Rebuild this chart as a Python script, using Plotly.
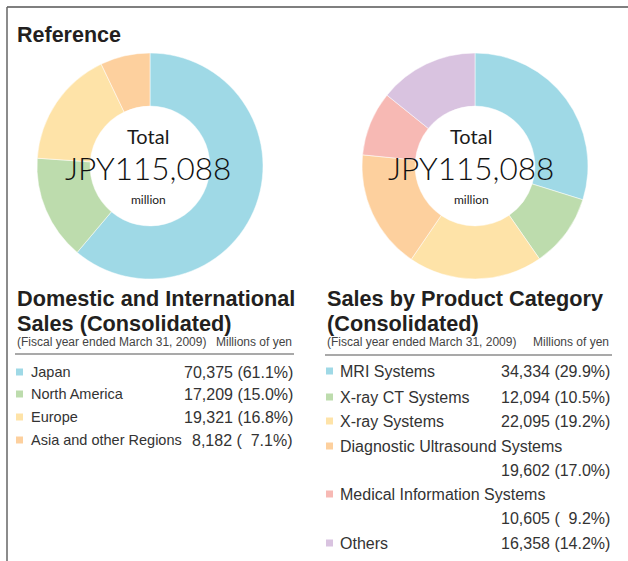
import plotly.graph_objects as go

W, H = 628, 561

# ---- data ----
regions = ["Japan", "North America", "Europe", "Asia and other Regions"]
region_values = [70375, 17209, 19321, 8182]
region_pct = [61.1, 15.0, 16.8, 7.1]

products = ["MRI Systems", "X-ray CT Systems", "X-ray Systems",
            "Diagnostic Ultrasound Systems", "Medical Information Systems", "Others"]
product_values = [34334, 12094, 22095, 19602, 10605, 16358]
product_pct = [29.9, 10.5, 19.2, 17.0, 9.2, 14.2]

total_label = "JPY115,088"

region_colors = ["#9fd9e6", "#bddcad", "#fee3a8", "#fdd09e"]
product_colors = ["#9fd9e6", "#bddcad", "#fee3a8", "#fdd09e", "#f7b9b4", "#d9c3e0"]


def px(x):
    return x / W


def py(y):
    return 1 - y / H


def dom(cx, cy, r):
    return dict(x=[px(cx - r), px(cx + r)], y=[py(cy + r), py(cy - r)])


fig = go.Figure()
fig.add_trace(go.Pie(labels=regions, values=region_values, hole=0.53, sort=False,
                     direction="clockwise", rotation=0, textinfo="none",
                     marker=dict(colors=region_colors, line=dict(color="white", width=0.5)),
                     domain=dom(150, 166, 113), showlegend=False, hoverinfo="label+value"))
fig.add_trace(go.Pie(labels=products, values=product_values, hole=0.53, sort=False,
                     direction="clockwise", rotation=0, textinfo="none",
                     marker=dict(colors=product_colors, line=dict(color="white", width=0.5)),
                     domain=dom(475, 166, 113), showlegend=False, hoverinfo="label+value"))

ann = []
shapes = []
TXT = "#231f20"
SANS = "Liberation Sans, Arial, sans-serif"
CENTER_FONT = "Lato, Noto Sans, sans-serif"


def text(x, y, s, size, color=TXT, xanchor="left", bold=False, family=SANS, weight=None):
    f = dict(size=size, color=color, family=family)
    if weight is not None:
        f["weight"] = weight
    ann.append(dict(x=px(x), y=py(y), xref="paper", yref="paper", text=(f"<b>{s}</b>" if bold else s),
                    showarrow=False, xanchor=xanchor, yanchor="middle", font=f))


def fmt(v, p):
    s = f"{v:,} ({p:4.1f}%)"
    return s.replace("( ", "(\u2007")


# borders
shapes.append(dict(type="line", xref="paper", yref="paper", x0=px(7), x1=1, y0=py(7), y1=py(7),
                   line=dict(color="#555555", width=1.5)))
shapes.append(dict(type="line", xref="paper", yref="paper", x0=px(7), x1=px(7), y0=py(7), y1=0,
                   line=dict(color="#666666", width=1.5)))

text(15, 35, "Reference", 21.5, bold=True)

# centre labels
for cx in (148, 471):
    text(cx, 136, "Total", 20, color="#1a1a1a", xanchor="center", family=CENTER_FONT, weight=400)
    text(cx, 168, total_label, 31.5, color="#111111", xanchor="center", family=CENTER_FONT, weight=300)
    text(cx, 200, "million", 12, color="#1a1a1a", xanchor="center", family=CENTER_FONT, weight=400)

# left block
text(15, 298, "Domestic and International", 21.7, bold=True)
text(15, 323, "Sales (Consolidated)", 21.7, bold=True)
text(15, 342, "(Fiscal year ended March 31, 2009)", 12, color="#444444")
text(294, 342, "Millions of yen", 12, color="#444444", xanchor="right")
shapes.append(dict(type="line", xref="paper", yref="paper", x0=px(15), x1=px(294), y0=py(354), y1=py(354),
                   line=dict(color="#555555", width=1.2)))
left_rows = [372, 394, 417, 440]
for i, (name, v, p) in enumerate(zip(regions, region_values, region_pct)):
    y = left_rows[i]
    shapes.append(dict(type="rect", xref="paper", yref="paper", x0=px(16), x1=px(23), y0=py(y + 3.5),
                       y1=py(y - 3.5), fillcolor=region_colors[i], line=dict(width=0)))
    text(29, y, name, 14.5, color="#333333")
    text(295, y, fmt(v, p), 16, color="#333333", xanchor="right")

# right block
text(325, 298, "Sales by Product Category", 21.7, bold=True)
text(325, 323, "(Consolidated)", 21.7, bold=True)
text(325, 342, "(Fiscal year ended March 31, 2009)", 12, color="#444444")
text(611, 342, "Millions of yen", 12, color="#444444", xanchor="right")
shapes.append(dict(type="line", xref="paper", yref="paper", x0=px(325), x1=px(612), y0=py(355), y1=py(355),
                   line=dict(color="#555555", width=1.2)))
# rows: (label row y, value row y)
right_rows = [(371, 371), (397, 397), (421, 421), (446, 470), (494, 518), (543, 543)]
for i, (name, v, p) in enumerate(zip(products, product_values, product_pct)):
    yl, yv = right_rows[i]
    shapes.append(dict(type="rect", xref="paper", yref="paper", x0=px(326), x1=px(333), y0=py(yl + 3.5),
                       y1=py(yl - 3.5), fillcolor=product_colors[i], line=dict(width=0)))
    text(338, yl, name, 16, color="#333333")
    text(612, yv, fmt(v, p), 16, color="#333333", xanchor="right")

fig.update_layout(width=W, height=H, margin=dict(l=0, r=0, t=0, b=0),
                  paper_bgcolor="white", plot_bgcolor="white",
                  annotations=ann, shapes=shapes)
fig.write_html("out.html", config={"displayModeBar": False},
               post_script="document.body.style.margin='0px';document.body.style.overflow='hidden';")
